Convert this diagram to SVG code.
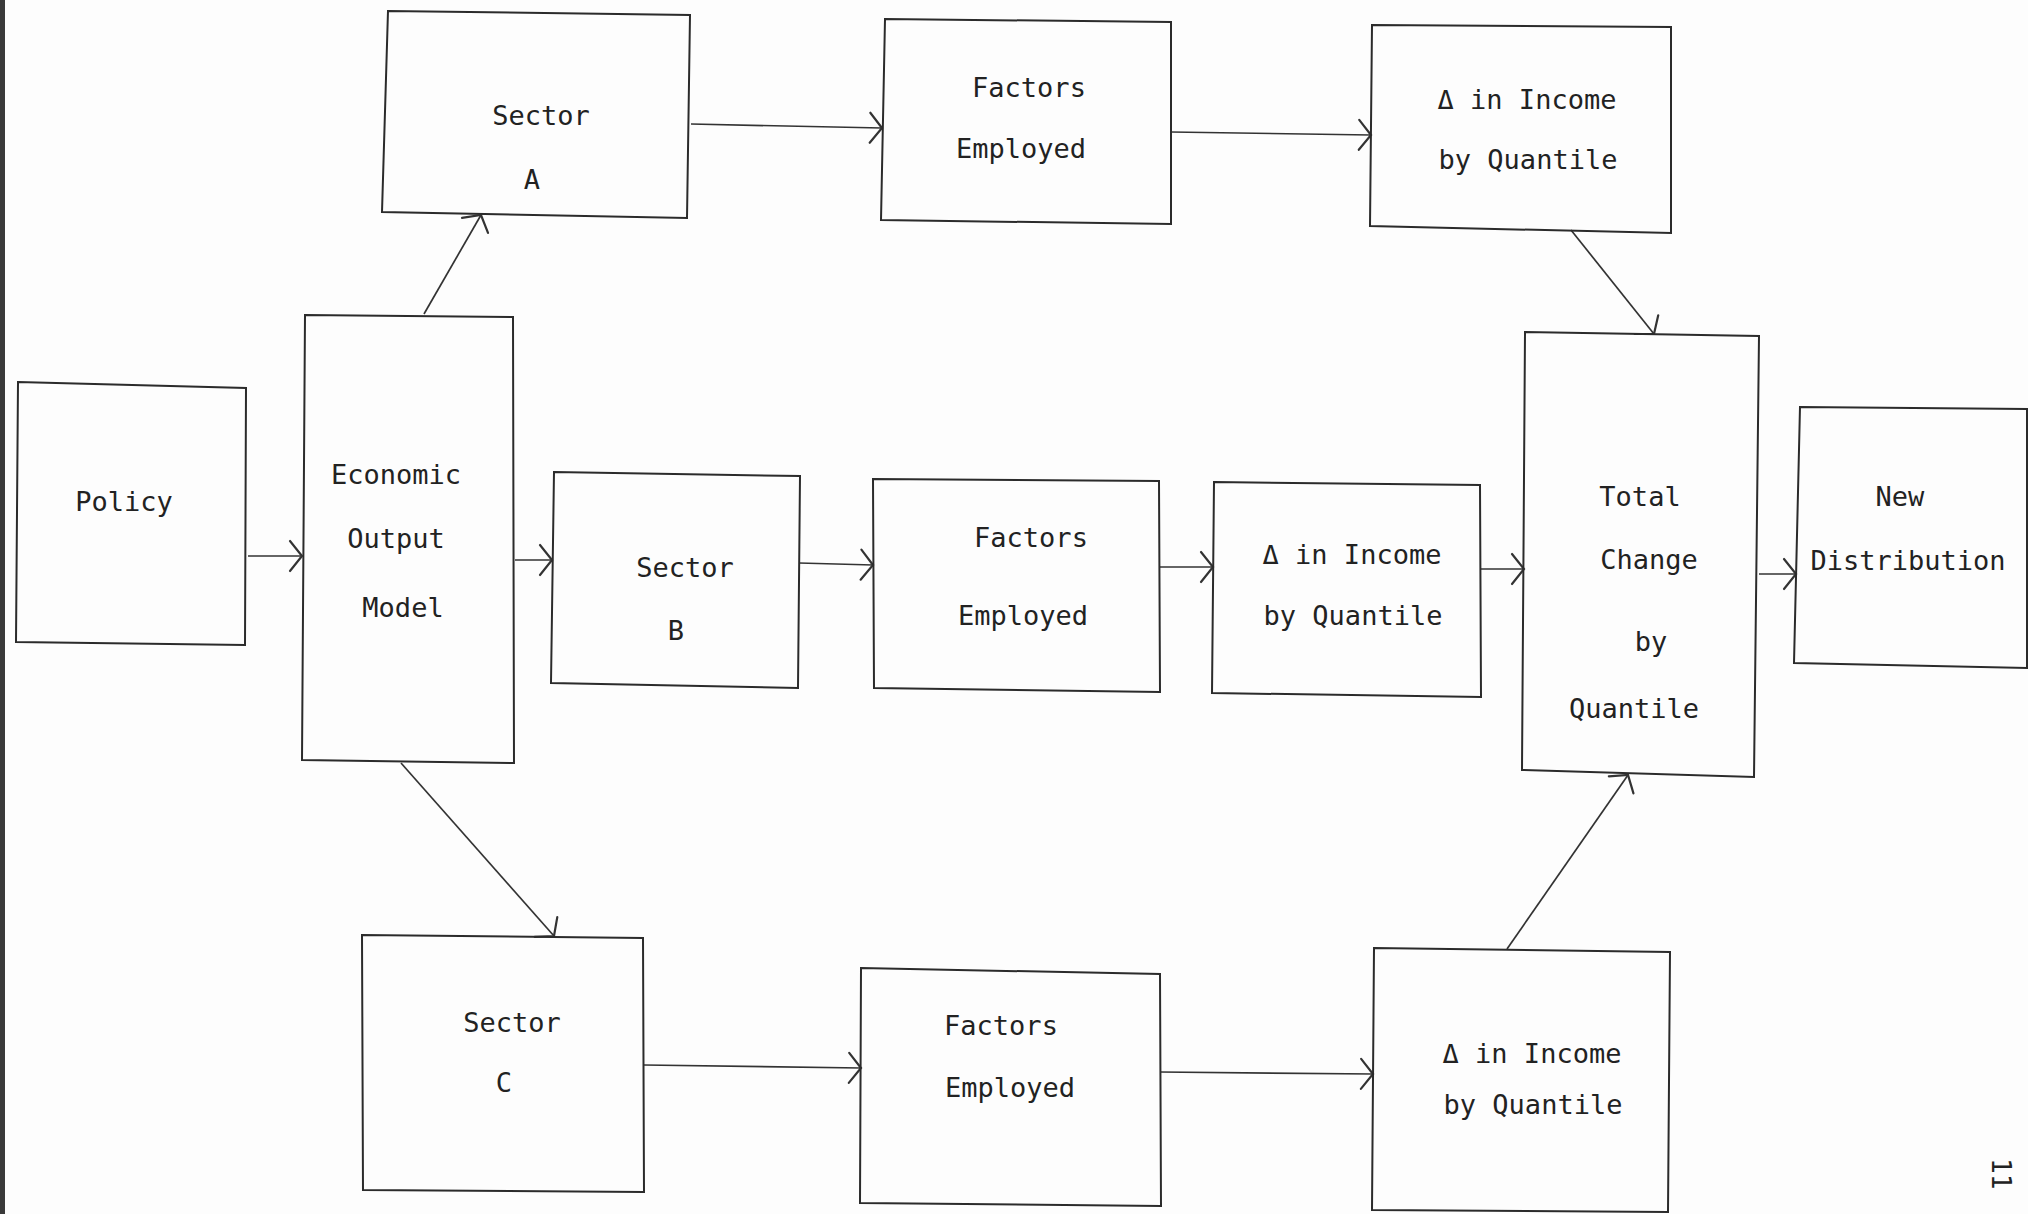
<svg xmlns="http://www.w3.org/2000/svg" width="2028" height="1214" viewBox="0 0 2028 1214">
<defs>
<style>
.box{fill:none;stroke:#2b2b2b;stroke-width:2;stroke-linejoin:miter}
.edge{fill:none;stroke:#333;stroke-width:1.7}
.lbl{font-family:"DejaVu Sans Mono","Liberation Mono",monospace;font-size:27px;fill:#222;text-anchor:middle}
.pg{font-family:"DejaVu Sans Mono","Liberation Mono",monospace;font-size:26px;fill:#222}
</style>
<marker id="arr" markerUnits="userSpaceOnUse" markerWidth="30" markerHeight="40" viewBox="-16 -20 20 40" refX="0" refY="0" orient="auto">
<path d="M-12,-15 L0,0 L-12,15" fill="none" stroke="#333" stroke-width="2.2" stroke-linecap="round"/>
</marker>
</defs>
<rect x="0" y="0" width="2028" height="1214" fill="#fdfdfd"/>
<rect x="0" y="0" width="5" height="1214" fill="#3a3a3a"/>

<g id="connectors">
<line class="edge" x1="248" y1="556" x2="302" y2="556" marker-end="url(#arr)"/>
<line class="edge" x1="515" y1="560" x2="552" y2="560" marker-end="url(#arr)"/>
<line class="edge" x1="424" y1="314" x2="481" y2="215" marker-end="url(#arr)"/>
<line class="edge" x1="401" y1="763" x2="554" y2="936" marker-end="url(#arr)"/>
<line class="edge" x1="691" y1="124" x2="882" y2="128" marker-end="url(#arr)"/>
<line class="edge" x1="1171" y1="132" x2="1371" y2="135" marker-end="url(#arr)"/>
<line class="edge" x1="1571" y1="230" x2="1654" y2="334" marker-end="url(#arr)"/>
<line class="edge" x1="799" y1="563" x2="873" y2="565" marker-end="url(#arr)"/>
<line class="edge" x1="1160" y1="567" x2="1213" y2="567" marker-end="url(#arr)"/>
<line class="edge" x1="1481" y1="569" x2="1524" y2="569" marker-end="url(#arr)"/>
<line class="edge" x1="1759" y1="574" x2="1796" y2="574" marker-end="url(#arr)"/>
<line class="edge" x1="644" y1="1065" x2="861" y2="1068" marker-end="url(#arr)"/>
<line class="edge" x1="1160" y1="1072" x2="1373" y2="1074" marker-end="url(#arr)"/>
<line class="edge" x1="1507" y1="949" x2="1628" y2="775" marker-end="url(#arr)"/>
</g>

<g id="policy">
<polygon class="box" points="18,382 246,388 245,645 16,642"/>
<text class="lbl" x="124" y="511">Policy</text>
</g>

<g id="economic-output-model">
<polygon class="box" points="305,315 513,317 514,763 302,760"/>
<text class="lbl" x="396" y="484">Economic</text>
<text class="lbl" x="396" y="548">Output</text>
<text class="lbl" x="403" y="617">Model</text>
</g>

<g id="sector-a">
<polygon class="box" points="388,11 690,15 687,218 382,212"/>
<text class="lbl" x="541" y="125">Sector</text>
<text class="lbl" x="532" y="189">A</text>
</g>

<g id="factors-a">
<polygon class="box" points="885,19 1171,22 1171,224 881,220"/>
<text class="lbl" x="1029" y="97">Factors</text>
<text class="lbl" x="1021" y="158">Employed</text>
</g>

<g id="income-a">
<polygon class="box" points="1372,25 1671,27 1671,233 1370,226"/>
<text class="lbl" x="1527" y="109">Δ in Income</text>
<text class="lbl" x="1528" y="169">by Quantile</text>
</g>

<g id="sector-b">
<polygon class="box" points="554,472 800,476 798,688 551,683"/>
<text class="lbl" x="685" y="577">Sector</text>
<text class="lbl" x="676" y="640">B</text>
</g>

<g id="factors-b">
<polygon class="box" points="873,479 1159,481 1160,692 874,688"/>
<text class="lbl" x="1031" y="547">Factors</text>
<text class="lbl" x="1023" y="625">Employed</text>
</g>

<g id="income-b">
<polygon class="box" points="1214,482 1480,485 1481,697 1212,693"/>
<text class="lbl" x="1352" y="564">Δ in Income</text>
<text class="lbl" x="1353" y="625">by Quantile</text>
</g>

<g id="total-change">
<polygon class="box" points="1525,332 1759,336 1754,777 1522,770"/>
<text class="lbl" x="1640" y="506">Total</text>
<text class="lbl" x="1649" y="569">Change</text>
<text class="lbl" x="1651" y="651">by</text>
<text class="lbl" x="1634" y="718">Quantile</text>
</g>

<g id="new-distribution">
<polygon class="box" points="1800,407 2027,409 2027,668 1794,663"/>
<text class="lbl" x="1900" y="506">New</text>
<text class="lbl" x="1908" y="570">Distribution</text>
</g>

<g id="sector-c">
<polygon class="box" points="362,935 643,938 644,1192 363,1190"/>
<text class="lbl" x="512" y="1032">Sector</text>
<text class="lbl" x="504" y="1092">C</text>
</g>

<g id="factors-c">
<polygon class="box" points="861,968 1160,974 1161,1206 860,1203"/>
<text class="lbl" x="1001" y="1035">Factors</text>
<text class="lbl" x="1010" y="1097">Employed</text>
</g>

<g id="income-c">
<polygon class="box" points="1374,948 1670,952 1668,1212 1372,1210"/>
<text class="lbl" x="1532" y="1063">Δ in Income</text>
<text class="lbl" x="1533" y="1114">by Quantile</text>
</g>

<text class="pg" transform="translate(1992,1158) rotate(90)">11</text>
</svg>
